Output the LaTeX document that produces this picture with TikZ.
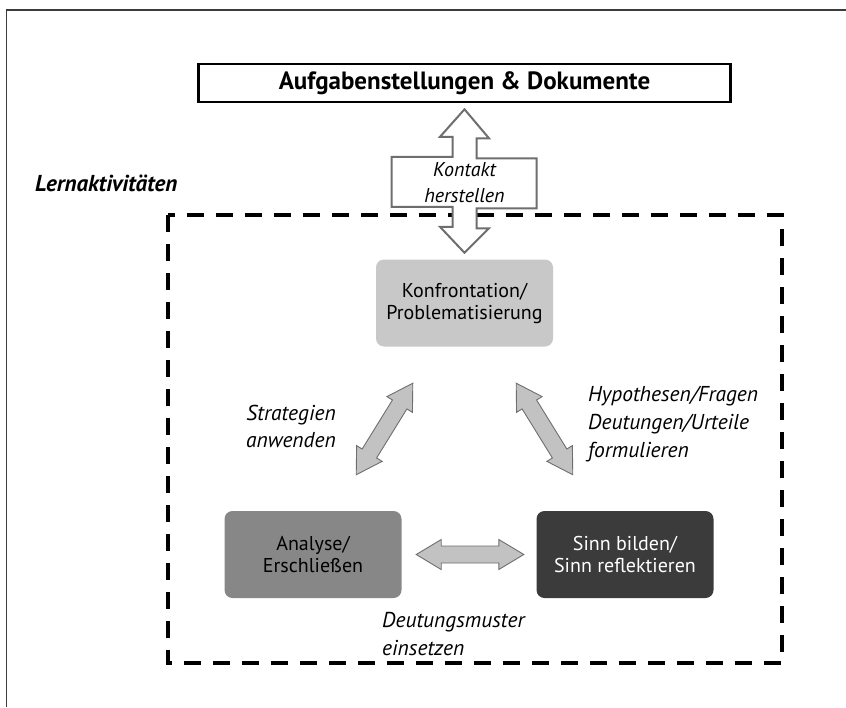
\documentclass[tikz,border=0pt]{standalone}
\usepackage{fontspec}
\setmainfont{PT Sans}
\usetikzlibrary{calc}

\definecolor{konfgray}{HTML}{C8C8C8}
\definecolor{anagray}{HTML}{878787}
\definecolor{sinngray}{HTML}{3B3B3B}
\definecolor{arrowfill}{HTML}{C2C2C2}
\definecolor{arrowline}{HTML}{6E6E6E}
\definecolor{framegray}{HTML}{3C3C3C}

\tikzset{
  pageframe/.style={draw=framegray, line width=1.8pt},
  titlebox/.style={draw=black, line width=2.6pt, minimum width=532pt, minimum height=38pt,
    inner sep=0pt, font=\fontsize{25}{29}\selectfont\bfseries},
  activity/.style={draw, dash pattern=on 17pt off 12pt, line width=4pt},
  phase/.style={rounded corners=8pt, minimum width=177pt, minimum height=87pt, inner sep=0pt,
    align=center, font=\fontsize{20}{22}\selectfont},
  caption/.style={inner sep=0pt, font=\fontsize{21.5}{27.5}\selectfont\itshape},
  contact/.style={draw=arrowline, fill=white, line width=2pt, line join=miter},
  fatarrow/.style={draw=arrowline, fill=arrowfill, line width=0.9pt, line join=miter},
}

% fat double-headed arrow between two points
\newcommand{\fatdouble}[2]{%
  \path[fatarrow] let \p1=(#1), \p2=(#2),
      \n1={atan2(\y2-\y1,\x2-\x1)}, \n2={veclen(\x2-\x1,\y2-\y1)} in
    [shift={(\p1)}, rotate=\n1]
    (0pt,0pt) -- (25pt,15pt) -- (25pt,8.5pt) -- ({(\n2-25)*1pt},8.5pt)
    -- ({(\n2-25)*1pt},15pt) -- ({\n2*1pt},0pt) -- ({(\n2-25)*1pt},-15pt)
    -- ({(\n2-25)*1pt},-8.5pt) -- (25pt,-8.5pt) -- (25pt,-15pt) -- cycle;}

\begin{document}
\begin{tikzpicture}[x=1pt,y=-1pt]
\useasboundingbox (0,0) rectangle (846,707);

% outer page frame (top and left edges)
\draw[pageframe] (846,10) -- (6.5,10) -- (6.5,707);

% documents box
\node[titlebox] (docs) at (464.5,83) {Aufgabenstellungen \& Dokumente};

% activity area
\node[inner sep=0pt, anchor=west, font=\fontsize{23}{27}\selectfont\bfseries\itshape] (lern) at (35,183) {Lernaktivitäten};
\draw[activity] (168,215) rectangle (782,663);

% phases
\node[phase, fill=konfgray] (konf) at (464.5,303) {Konfrontation/\\Problematisierung};
\node[phase, fill=anagray] (ana) at (313,554.5) {Analyse/\\Erschließen};
\node[phase, fill=sinngray, text=white] (sinn) at (625,554.5) {Sinn bilden/\\Sinn reflektieren};

% contact arrow between documents and activities
\coordinate (ktop) at ($(docs.south)+(0,6)$);
\coordinate (kbot) at ($(konf.north)+(0,-6.5)$);
\draw[contact] (ktop) -- ++(24.5,29) -- ++(-12.5,0) -- ++(0,20) -- ++(60,0) -- ++(0,50)
  -- ++(-60,0) -- ++(0,20) -- ++(12.5,0) -- (kbot) -- ++(-24.5,-26) -- ++(12.5,0)
  -- ++(0,-20) -- ++(-61,0) -- ++(0,-50) -- ++(61,0) -- ++(0,-20) -- ++(-12.5,0) -- cycle;
\node[caption, align=center, font=\fontsize{20}{26}\selectfont\itshape] (kontakt) at (464.5,183) {Kontakt\\herstellen};

% connections between phases
\coordinate (kl) at ($(konf.south west)+(37,36.5)$);
\coordinate (al) at ($(ana.north east)+(-45.5,-36)$);
\coordinate (kr) at ($(konf.south east)+(-37,36.5)$);
\coordinate (sr) at ($(sinn.north west)+(36.5,-36)$);
\coordinate (ar) at ($(ana.east)+(14.5,0)$);
\coordinate (sl) at ($(sinn.west)+(-12.5,0)$);
\fatdouble{kl}{al}
\fatdouble{kr}{sr}
\fatdouble{ar}{sl}

% labels of the connections
\node[caption, anchor=east, align=right] (strat) at (336,426.5) {Strategien\\anwenden};
\node[caption, anchor=west, align=left, font=\fontsize{21.5}{28}\selectfont\itshape] (hyp) at (588,424) {Hypothesen/Fragen\\Deutungen/Urteile\\formulieren};
\node[caption, anchor=west, align=left] (deut) at (382,634) {Deutungsmuster\\einsetzen};
\end{tikzpicture}
\end{document}
